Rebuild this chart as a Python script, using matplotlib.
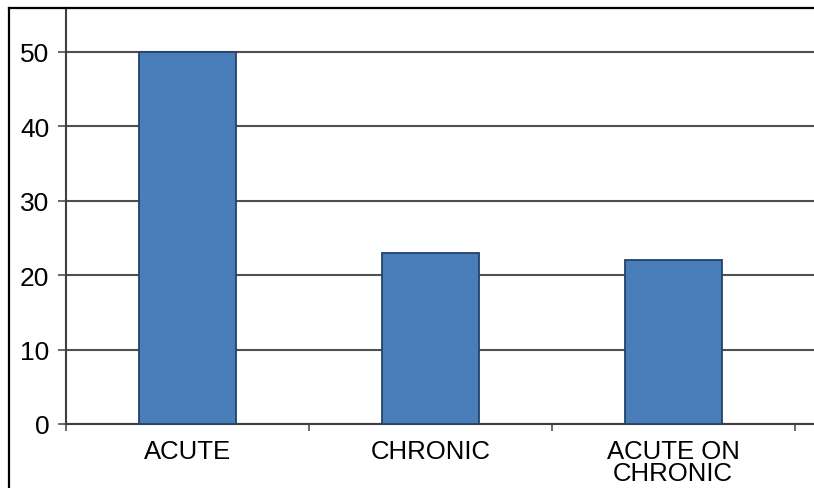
import matplotlib.pyplot as plt
from matplotlib.lines import Line2D

# data
categories = ["ACUTE", "CHRONIC", "ACUTE ON\nCHRONIC"]
values = [50, 23, 22]
y_ticks = [0, 10, 20, 30, 40, 50]

plt.rcParams['font.family'] = ['Liberation Sans', 'DejaVu Sans']

fig = plt.figure(figsize=(8.14, 4.89), dpi=100)
ax = fig.add_axes([66 / 814, 1 - 425 / 489, 1 - 66 / 814, (425 - 9) / 489])

x = list(range(len(categories)))
ax.bar(x, values, width=0.4, color="#4a7ebb", edgecolor="#22436b",
       linewidth=1.3, zorder=3)

ax.set_xlim(-0.5, 2.58)
ax.set_ylim(0, 55.9)

# horizontal gridlines
ax.set_yticks(y_ticks)
ax.yaxis.grid(True, color="#4f4f4f", linewidth=1.5, zorder=0)
ax.set_axisbelow(True)

# category labels centred under bars, small ticks at the boundaries
ax.set_xticks([-0.5, 0.5, 1.5, 2.5])
ax.set_xticklabels([])
ax.set_xticks(x, minor=True)
ax.set_xticklabels(categories, minor=True, fontsize=18.5, linespacing=0.88)
ax.tick_params(axis='x', which='minor', length=0, pad=11)
ax.tick_params(axis='x', which='major', length=5, width=1.2, color="#4f4f4f")
ax.tick_params(axis='y', length=6, width=1.2, color="#4f4f4f",
               labelsize=19, pad=6)

for side in ['top', 'right']:
    ax.spines[side].set_visible(False)
for side in ['left', 'bottom']:
    ax.spines[side].set_color("#3f3f3f")
    ax.spines[side].set_linewidth(1.5)

# outer frame of the picture (left and top edges)
fig.add_artist(Line2D([9 / 814, 9 / 814], [0, 1 - 9 / 489], color="black",
                      linewidth=1.6, transform=fig.transFigure))
fig.add_artist(Line2D([9 / 814, 1], [1 - 9 / 489, 1 - 9 / 489], color="black",
                      linewidth=1.6, transform=fig.transFigure))

plt.savefig("out.png", dpi=100)
